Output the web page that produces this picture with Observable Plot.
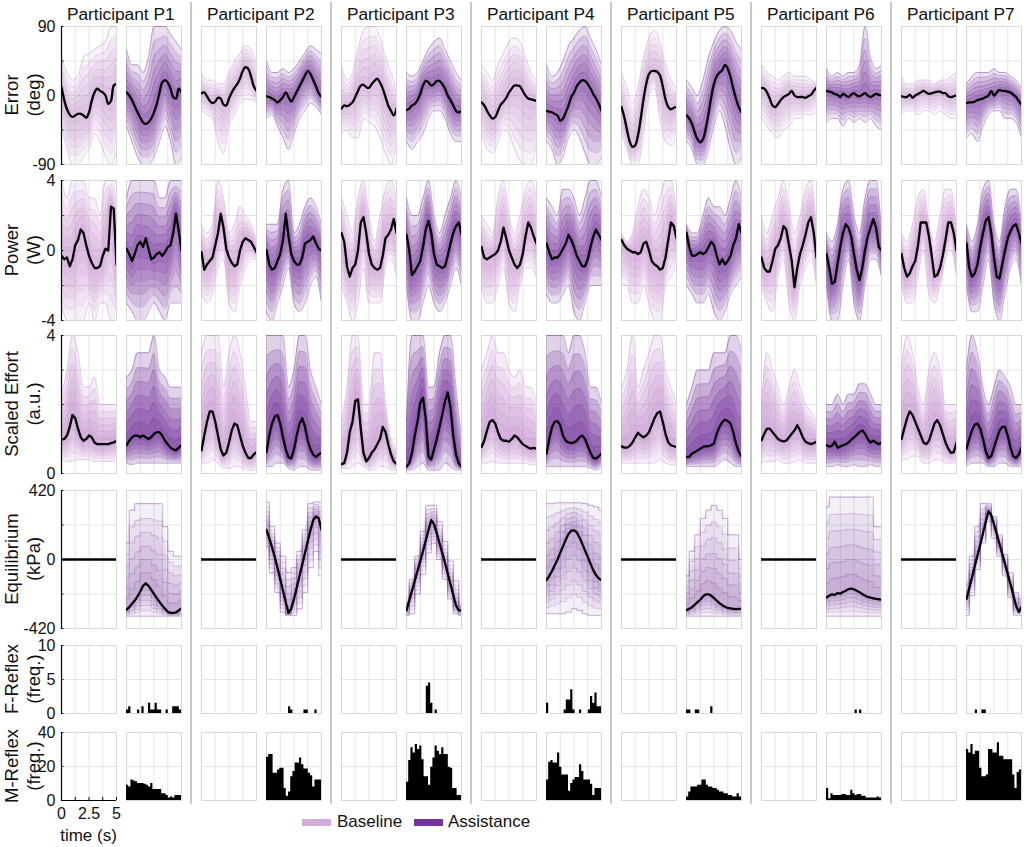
<!DOCTYPE html>
<html><head><meta charset="utf-8">
<script src="https://cdn.jsdelivr.net/npm/d3@7"></script>
<script src="https://cdn.jsdelivr.net/npm/@observablehq/plot@0.6"></script>
<style>
body{margin:0;background:#fff;}
#fig{position:relative;width:1024px;height:847px;overflow:hidden;font-family:"Liberation Sans",Arial,Helvetica,sans-serif;color:#111;}
.panel{position:absolute;}
.panel svg{overflow:visible;display:block;}
.title{position:absolute;font-size:17.3px;line-height:20px;transform:translateX(-50%);white-space:nowrap;}
.ylab{position:absolute;font-size:18.5px;line-height:22px;text-align:center;transform:translate(-50%,-50%) rotate(-90deg);white-space:nowrap;}
.sep{position:absolute;width:1.5px;background:#c9c9c9;}
.xlab{position:absolute;font-size:17px;transform:translate(-50%,-50%);white-space:nowrap;}
.leg{position:absolute;font-size:17px;line-height:20px;white-space:nowrap;}
.sw{position:absolute;height:7px;}
</style></head><body><div id="fig"></div><script>
// ---------------- DATA ----------------
const participants = ["P1","P2","P3","P4","P5","P6","P7"];
const meanTimes = [0,0.25,0.5,0.75,1,1.25,1.5,1.75,2,2.25,2.5,2.75,3,3.25,3.5,3.75,4,4.25,4.5,4.75,5];
const envTimes = [0,0.5,1,1.5,2,2.5,3,3.5,4,4.5,5];
const reflexBinStarts = [0,0.2,0.4,0.6,0.8,1,1.2,1.4,1.6,1.8,2,2.2,2.4,2.6,2.8,3,3.2,3.4,3.6,3.8,4,4.2,4.4,4.6,4.8];
const reflexBinEnd = 5;
const timeTicks = [0,1.25,2.5,3.75,5];
const timeTickLabels = [0,2.5,5];

const errorTicks = [-90,-45,0,45,90], errorTickLabels = [-90,0,90];
const powerTicks = [-4,-2,0,2,4], powerTickLabels = [-4,0,4];
const effortTicks = [0,1,2,3,4], effortTickLabels = [0,4];
const equilibriumTicks = [-420,-210,0,210,420], equilibriumTickLabels = [-420,0,420];
const fReflexTicks = [0,5,10], fReflexTickLabels = [0,5,10];
const mReflexTicks = [0,20,40], mReflexTickLabels = [0,20,40];

// Error (deg)
const errorBaselineMean = [
 [11,-6,-18,-25,-28,-26,-24,-24,-26,-29,-22,-7,4,9,6,4,0,-11,-7,13,15],
 [3,4,-1,-7,-10,-8,-3,-4,-12,-13,-4,4,10,15,22,32,37,35,25,12,6],
 [-17,-13,-14,-12,-9,-2,6,13,14,11,10,15,19,22,17,9,-2,-13,-20,-26,-17],
 [-9,-13,-20,-26,-30,-28,-20,-12,-8,-3,4,9,13,13,12,6,0,-4,-5,-6,-7],
 [-15,-28,-45,-60,-67,-65,-52,-30,-5,15,28,32,32,31,26,12,-5,-15,-18,-16,-15],
 [10,9,4,-4,-13,-15,-11,-6,-2,0,2,6,0,-2,-2,-2,-3,-1,1,6,10],
 [-1,-2,-2,1,-3,0,2,4,6,4,2,3,4,5,5,3,3,-1,-2,-1,0]];
const errorBaselineLow = [
 [-40,-70,-90,-90,-80,-70,-50,-60,-80,-90,-70],
 [-20,-25,-30,-60,-75,-40,-25,-10,-5,-5,-10],
 [-50,-45,-55,-55,-30,-35,-40,-55,-75,-90,-60],
 [-50,-70,-75,-60,-45,-50,-70,-85,-90,-90,-60],
 [-50,-70,-90,-90,-50,0,10,-30,-60,-65,-55],
 [-30,-40,-50,-55,-45,-40,-30,-30,-25,-25,-20],
 [-25,-20,-20,-25,-20,-20,-25,-20,-25,-30,-30]];
const errorBaselineHigh = [
 [50,30,20,25,50,55,60,65,70,90,90],
 [30,20,20,15,15,30,45,55,65,60,40],
 [40,20,30,60,85,90,90,75,50,30,10],
 [40,30,20,40,55,70,75,70,50,30,20],
 [30,10,-10,10,50,75,85,70,40,20,10],
 [40,30,25,20,25,30,25,25,25,20,15],
 [25,15,15,20,20,20,15,20,20,25,30]];
const errorAssistMean = [
 [4,0,-6,-14,-22,-29,-35,-37,-35,-30,-22,-11,4,17,20,17,9,-2,-4,9,4],
 [-1,-2,-4,-6,-9,-6,-2,4,-2,-8,-2,5,12,19,26,32,28,20,12,3,-2],
 [-19,-17,-13,-11,-6,2,13,19,17,13,15,19,19,15,9,0,-6,-13,-20,-22,-20],
 [-20,-21,-22,-24,-26,-33,-30,-22,-13,-2,4,12,17,20,19,15,9,2,-4,-11,-20],
 [-26,-30,-37,-48,-57,-61,-57,-43,-24,-2,15,25,30,33,40,35,24,9,-4,-15,-22],
 [6,5,4,2,1,-2,2,0,-2,1,3,0,-1,1,3,0,-2,0,2,1,0],
 [-10,-9,-9,-8,-6,-5,-4,-2,0,6,0,4,7,6,6,5,4,1,-2,-7,-12]];
const errorAssistLow = [
 [-40,-60,-80,-90,-90,-80,-60,-40,-60,-90,-80],
 [-30,-25,-40,-55,-70,-50,-30,-20,-10,-15,-25],
 [-60,-70,-60,-50,-30,-20,-20,-30,-50,-60,-60],
 [-60,-70,-90,-80,-55,-45,-55,-75,-90,-90,-80],
 [-60,-70,-90,-90,-70,-40,-20,-40,-70,-90,-80],
 [-35,-30,-30,-40,-30,-35,-30,-35,-30,-40,-45],
 [-55,-50,-60,-40,-25,-20,-20,-30,-30,-35,-55]];
const errorAssistHigh = [
 [60,40,40,30,50,90,90,90,80,70,60],
 [45,30,30,35,30,35,45,55,65,60,55],
 [30,25,30,45,60,70,75,60,45,30,20],
 [40,25,30,45,65,75,85,90,75,60,40],
 [20,10,0,20,50,70,85,90,85,70,60],
 [35,25,30,25,30,30,40,90,50,35,40],
 [15,25,30,30,30,35,30,30,25,20,10]];

// Power (W)
const powerBaselineMean = [
 [-0.3,-0.5,-0.4,-0.9,-0.5,0.3,0.6,1.2,1.0,0.3,-0.3,-0.7,-1.0,-1.0,-0.9,-0.3,0.1,0.0,2.5,2.4,-0.8],
 [-0.1,-1.1,-0.8,-0.6,-0.4,0.3,1.0,2.1,1.3,0.1,-0.4,-0.7,-0.9,-0.8,0.0,0.5,0.7,0.6,0.5,0.2,-0.1],
 [1.0,0.5,-0.9,-1.5,-1.0,-0.8,0.0,1.6,1.9,1.0,-0.2,-0.8,-1.0,-1.1,-1.0,-0.3,0.7,0.9,1.2,1.8,1.0],
 [0.2,-0.4,-0.5,-0.4,-0.3,-0.2,0.0,0.5,1.3,0.7,0.0,-0.4,-0.8,-1.0,-0.8,-0.2,0.8,1.6,1.3,0.8,0.4],
 [0.6,0.3,0.1,0.0,-0.1,-0.1,-0.2,-0.1,0.4,0.5,0.0,-0.6,-0.8,-0.9,-1.1,-1.0,-0.4,0.6,1.6,1.4,0.7],
 [-0.4,-1.0,-1.2,-1.2,-0.6,0.1,0.3,0.7,1.4,1.2,0.3,-0.6,-2.1,-1.0,-0.2,0.3,0.9,1.6,1.9,1.0,-0.4],
 [-0.2,-1.0,-1.5,-1.3,-0.9,-0.6,0.3,1.6,1.6,1.6,0.8,-0.3,-1.5,-1.4,-1.0,-0.3,0.6,1.6,1.6,1.0,0.0]];
const powerBaselineLow = [
 [-3,-4,-4,-4,-4,-3,-4,-3,-3,-4,-4],
 [-2.5,-3,-2.5,-1,-0.5,-3,-3.5,-2,-1,-0.5,-0.5],
 [-2,-3,-4,-3,-1,-3,-3,-3,-1,-0.5,-1.5],
 [-2,-3,-3,-2,-1,-3,-3.5,-2,-1,-1,-1.5],
 [-2,-2,-3,-3,-2,-3,-4,-4,-2,-1.5,-1],
 [-2,-3,-3.5,-1.5,-0.5,-3,-4,-2,-1,-0.5,-2],
 [-2,-3,-3,-1.5,0,-2.5,-3,-2,-0.5,0,-1.5]];
const powerBaselineHigh = [
 [4,3,4,4,4,3,3,2,4,4,4],
 [1.5,1,1.5,4,3,1,1.5,2.5,2,1.5,0.5],
 [3,2,1,3,4,2,0.5,2,3.5,4,3],
 [2,1.5,1,3,4,2,1,2,3.5,4,3],
 [1,0.5,1,2.5,3.5,3,2,3,4,4,2],
 [2,1,2,3,4,2.5,1,2,3.5,4,1],
 [1,0.5,1.5,3,3.5,1.5,0.5,2,3.5,3.5,1]];
const powerAssistMean = [
 [0.1,-0.2,-0.6,-0.2,0.3,0.5,0.2,0.7,0.1,-0.5,-0.4,-0.2,-0.1,-0.3,-0.1,0.2,0.3,1.0,2.1,1.1,0.0],
 [0.0,-0.8,-1.1,-1.0,-0.6,-0.2,0.6,2.1,0.8,-0.2,-0.6,-0.8,-0.8,-0.4,0.4,0.5,0.6,0.8,0.4,0.1,0.0],
 [0.9,0.0,-1.4,-1.2,-0.9,-0.6,0.2,1.2,1.7,1.0,-0.2,-0.8,-0.9,-1.0,-0.9,-0.3,0.4,1.0,1.4,1.6,0.9],
 [0.4,-0.1,-0.5,-0.4,-0.4,-0.2,0.1,0.4,0.9,0.6,0.2,-0.3,-0.6,-0.9,-0.9,-0.5,0.2,0.8,1.2,0.9,0.6],
 [1.0,0.2,-0.3,-0.3,-0.2,-0.1,-0.2,-0.1,0.2,0.5,0.3,-0.3,-0.8,-0.5,-0.8,-0.6,-0.3,0.3,0.7,1.5,1.0],
 [-0.2,-1.0,-1.9,-1.8,-0.8,0.2,1.0,1.5,1.3,0.8,-0.2,-1.1,-1.7,-1.0,0.0,0.8,1.3,1.8,1.3,0.2,0.0],
 [0.4,-1.0,-1.5,-1.3,-0.8,0.2,1.0,1.7,1.9,1.0,-0.4,-1.5,-1.6,-0.8,0.0,0.7,1.1,1.4,1.5,1.0,0.4]];
const powerAssistLow = [
 [-3,-3.5,-4,-4,-3.5,-3,-3.5,-4,-3,-3,-3],
 [-3.5,-4,-3,-2,-1,-3,-3.5,-3,-2,-1.5,-3],
 [-2,-4,-4,-3,-2,-3,-3.5,-3,-2,-1,-2],
 [-2.5,-3,-3,-2.5,-2,-3.5,-4,-3,-2,-2,-2],
 [-2,-2.5,-3,-3,-2.5,-3.5,-4,-3.5,-2.5,-2,-1.5],
 [-2,-4,-4,-2,-0.5,-3,-4,-2,-0.5,-0.5,-1.5],
 [-2,-3.5,-3.5,-2,-0.5,-3,-4,-2.5,-1,-0.5,-2]];
const powerAssistHigh = [
 [3,4,4,4,4,4,3,3,4,4,4],
 [1.5,1.5,1.5,3.5,4,1,1.5,2.5,3,2.5,1.5],
 [3,2,2,3,4,2,1,2,3,4,3],
 [3,2.5,2,3.5,3.5,3,2,3,4,4,3],
 [1.5,1,1,2,3,2.5,2.5,2,3,4,3],
 [1,0.5,1.5,3.5,4,2,1,3,4,4,1],
 [1.5,0.5,1.5,3.5,4,1.5,0.5,2.5,3.5,3.5,1.5]];

// Scaled Effort (a.u.)
const effortBaselineMean = [
 [0.98,1.0,1.1,1.35,1.7,1.6,1.3,1.05,0.95,1.0,1.1,1.05,0.9,0.85,0.85,0.85,0.85,0.85,0.88,0.9,0.95],
 [0.67,1.1,1.5,1.8,1.8,1.5,1.1,0.7,0.52,0.6,0.9,1.25,1.45,1.4,1.1,0.8,0.6,0.45,0.45,0.55,0.62],
 [0.27,0.3,0.6,1.2,1.5,2.1,2.15,1.3,0.6,0.35,0.45,0.6,0.7,0.85,1.0,1.35,1.2,0.85,0.55,0.35,0.28],
 [0.77,0.95,1.25,1.5,1.55,1.45,1.2,1.0,0.95,0.95,0.92,1.0,1.1,1.05,0.95,0.85,0.8,0.75,0.72,0.74,0.72],
 [0.79,0.75,0.75,0.8,0.9,1.05,1.18,1.1,1.05,1.1,1.2,1.4,1.6,1.75,1.8,1.5,1.15,0.9,0.82,0.79,0.77],
 [0.96,1.15,1.3,1.3,1.2,1.1,1.0,0.95,0.93,0.95,1.05,1.15,1.25,1.4,1.25,1.05,0.92,0.88,0.85,0.88,0.92],
 [1.0,1.3,1.6,1.8,1.7,1.5,1.3,1.1,0.9,0.85,0.95,1.2,1.45,1.55,1.4,1.15,0.9,0.72,0.6,0.62,0.9]];
const effortBaselineLow = [
 [0.4,0.35,0.35,0.4,0.4,0.4,0.35,0.35,0.35,0.35,0.4],
 [0.3,0.3,0.4,0.3,0.15,0.15,0.2,0.2,0.1,0.1,0.1],
 [0.15,0.15,0.2,0.3,0.2,0.1,0.1,0.2,0.2,0.1,0.1],
 [0.3,0.3,0.35,0.3,0.3,0.3,0.3,0.3,0.3,0.25,0.25],
 [0.3,0.3,0.3,0.3,0.3,0.3,0.3,0.4,0.3,0.25,0.25],
 [0.3,0.35,0.35,0.4,0.3,0.3,0.35,0.4,0.3,0.3,0.3],
 [0.4,0.4,0.5,0.5,0.3,0.3,0.4,0.4,0.3,0.3,0.3]];
const effortBaselineHigh = [
 [2.3,3.0,4.0,3.5,2.5,2.5,2.8,2.0,2.0,2.0,2.0],
 [3.5,4.0,4.0,4.0,2.5,3.5,4.0,3.5,2.5,1.5,1.5],
 [1.5,2.5,4.0,4.0,2.0,2.0,3.5,3.5,2.0,1.0,0.8],
 [3.0,3.5,4.0,3.5,3.5,3.0,2.8,3.0,2.5,2.5,2.0],
 [2.5,3.0,4.0,2.5,3.0,3.5,4.0,4.0,3.0,2.5,2.0],
 [2.0,3.5,3.0,2.5,2.0,2.5,3.0,2.5,2.0,1.8,1.5],
 [3.0,4.0,3.5,2.5,2.0,3.0,3.5,3.0,2.0,2.0,2.0]];
const effortAssistMean = [
 [0.82,0.95,1.05,1.1,1.1,1.05,1.1,1.05,1.0,1.05,1.15,1.2,1.2,1.1,0.95,0.85,0.75,0.7,0.67,0.75,0.82],
 [0.63,1.1,1.45,1.65,1.7,1.45,1.05,0.7,0.48,0.43,0.7,1.1,1.45,1.6,1.35,0.95,0.7,0.55,0.48,0.55,0.6],
 [0.2,0.3,0.6,1.1,1.5,2.05,2.2,1.6,0.5,0.4,0.7,1.0,1.35,1.7,2.1,2.35,1.9,1.1,0.55,0.3,0.2],
 [0.58,1.0,1.35,1.5,1.52,1.4,1.1,0.95,0.9,0.88,0.9,0.95,1.05,1.1,1.0,0.8,0.6,0.45,0.43,0.5,0.58],
 [0.48,0.48,0.58,0.62,0.67,0.72,0.77,0.79,0.79,0.82,0.87,1.16,1.35,1.49,1.56,1.52,1.45,1.2,0.87,0.63,0.5],
 [0.82,0.78,0.8,0.92,0.75,0.78,0.82,0.85,0.9,0.98,1.05,1.12,1.2,1.25,1.15,1.0,0.9,0.95,0.9,0.85,0.9],
 [0.72,1.0,1.25,1.42,1.45,1.3,1.0,0.65,0.45,0.5,0.75,1.0,1.25,1.35,1.35,1.1,0.75,0.5,0.45,0.55,0.75]];
const effortAssistLow = [
 [0.3,0.25,0.3,0.3,0.3,0.3,0.3,0.3,0.3,0.3,0.3],
 [0.2,0.2,0.3,0.3,0.15,0.1,0.2,0.2,0.1,0.1,0.1],
 [0.1,0.1,0.2,0.3,0.1,0.1,0.1,0.3,0.2,0.1,0.1],
 [0.2,0.2,0.2,0.2,0.2,0.2,0.2,0.2,0.15,0.1,0.2],
 [0.2,0.2,0.2,0.2,0.2,0.2,0.3,0.4,0.3,0.2,0.2],
 [0.2,0.2,0.25,0.2,0.2,0.25,0.2,0.2,0.25,0.2,0.2],
 [0.2,0.3,0.3,0.3,0.2,0.2,0.3,0.3,0.2,0.2,0.2]];
const effortAssistHigh = [
 [2.8,3.0,3.5,3.5,3.5,4.0,3.0,2.8,2.5,2.5,2.5],
 [4.0,4.0,4.0,4.0,2.5,3.0,4.0,4.0,3.0,2.5,2.0],
 [1.5,4.0,4.0,4.0,2.5,2.5,3.5,4.0,4.0,2.5,1.0],
 [4.0,4.0,4.0,4.0,3.5,4.0,4.0,3.5,2.5,2.5,2.0],
 [2.0,2.5,3.0,3.0,3.0,3.5,3.5,3.5,4.0,4.0,3.5],
 [2.0,2.0,2.3,2.0,2.3,2.3,2.6,2.6,2.3,2.0,2.0],
 [3.0,4.0,3.5,2.5,2.0,2.5,3.0,2.8,2.5,2.0,2.0]];

// Equilibrium (kPa)
const equilibriumBaselineLevel = [0,0,0,0,0,0,0];
const equilibriumAssistMean = [
 [-305,-290,-270,-250,-225,-195,-160,-145,-160,-185,-210,-235,-258,-280,-300,-318,-325,-325,-322,-310,-298],
 [180,130,75,15,-50,-120,-190,-260,-325,-300,-240,-170,-100,-30,40,110,180,240,262,250,180],
 [-310,-250,-190,-130,-70,-10,50,115,180,240,215,160,100,40,-20,-85,-150,-215,-280,-310,-310],
 [-125,-100,-70,-35,0,40,80,120,155,175,178,165,135,95,55,15,-25,-65,-95,-115,-125],
 [-308,-300,-290,-275,-260,-245,-225,-212,-212,-220,-235,-250,-265,-278,-288,-295,-298,-300,-302,-300,-300],
 [-232,-220,-212,-215,-205,-208,-198,-190,-180,-177,-182,-190,-200,-210,-220,-228,-232,-236,-240,-242,-245],
 [-240,-175,-110,-40,25,90,160,230,295,270,215,155,95,35,-25,-90,-150,-215,-280,-320,-290]];
const equilibriumAssistLow = [
 [-345,-345,-345,-345,-345,-345,-345,-345,-345,-345,-345],
 [80,-80,-200,-320,-340,-340,-300,-200,-50,50,-100],
 [-340,-330,-210,-90,40,100,0,-120,-240,-330,-340],
 [-330,-330,-330,-330,-320,-300,-310,-330,-340,-340,-340],
 [-345,-345,-345,-345,-345,-345,-345,-345,-345,-345,-345],
 [-345,-345,-345,-345,-345,-345,-345,-345,-345,-345,-345],
 [-340,-220,-60,100,230,130,20,-100,-230,-340,-340]];
const equilibriumAssistHigh = [
 [100,300,340,340,340,340,340,200,50,20,20],
 [350,200,100,20,-80,-50,50,180,340,350,350],
 [-260,-120,20,170,330,330,230,110,-10,-130,-280],
 [340,340,345,345,345,345,345,340,330,320,300],
 [-100,50,150,250,300,330,300,250,150,150,0],
 [320,380,380,380,380,380,380,380,380,200,200],
 [-150,20,200,340,340,260,150,30,-80,-200,-240]];

// Reflex histograms (frequency per 0.2 s bin), assistance only
const fReflexAssist = [
 [0.5,1,0,0,0,0.5,0,1,0,0,1.5,0.5,0.5,1.5,0.5,0.5,0,0,0.5,0,0,1,1,1,0.5],
 [0,0,0,0,0,0,0,0,0,0,1,0.5,0,0,0,0,0,0.5,0.5,0,0,0,0.5,0,0],
 [0,0,0,0,0,0,0,0,0,4,4.5,1.5,0,0.5,0,0,0,0,0,0,0,0,0,0,0],
 [1.5,0,0,0,0,0,0,0,0.5,2,2,3.5,0.5,0,0,0.5,0,0,0,0.5,2.5,1.5,3,1,1],
 [0.5,0.5,0,0,0.5,0.5,0,0,0,0,0,1,0,0,0,0,0,0,0,0,0,0,0,0,0],
 [0,0,0,0,0,0,0,0,0,0,0,0,0,0.5,0,0.5,0,0,0,0,0,0,0,0,0],
 [0,0,0,0,0.5,0,0,0.5,0.5,0,0,0,0,0,0,0,0,0,0,0,0,0,0,0,0]];
const mReflexAssist = [
 [9,8,12,11.5,11,10,10,10,9.5,9,8,10,6.5,6.5,6.5,6.5,4,4,3,1.5,2,1.5,3,3,3],
 [25.5,27,27,16,16,18,19,19,7,2.5,5,14,17,22,22,25,21,18.5,18.5,16,14.5,8,12,12,12],
 [10.7,23.5,31,28,33,30,32,24,14,14,9,19.5,25,32,29,27,31,27,27,19.5,19,7,7,3,3],
 [12,22.5,23.5,22,22,28,19.5,15,15,15,5.5,10,12,13.5,13.5,21,17,12,12,12,9.5,3,7,7,7],
 [2,5,8,8,8,9,9,12,12,9,8,8,7,7,6,5,5,4,4,3,3,2,2,4,2],
 [7,1,4,3,3,3,3,3.5,3.5,3,3,6,4,3,3.5,3.5,2.5,2.5,1.5,1.5,1.5,1.5,1.5,2,1.5],
 [30,28,33,27,29,29,19,14,14,15,30,30,28,28,34,26,26,24,24,24,24,15,7,16.5,18]];

// ---------------- LAYOUT / STYLE ----------------
const baseColor = "#bf86cc", assistColor = "#74309b";
const legendBaseColor = "#d4aadc", legendAssistColor = "#7634a0";
const font = '"Liberation Sans", Arial, Helvetica, sans-serif';
const colLeft = 61, colStride = 140, panelW = 55, assistOffset = 64.5, axisMargin = 61;
const bandLevels = [1, 0.82, 0.65, 0.48, 0.32, 0.16];

const rows = [
 {title:["Error","(deg)"], top:26, h:138, domain:[-90,90], ticks:errorTicks, labels:errorTickLabels, grid:[-45,0,45], kind:"line", curve:"catmull-rom", op:{B:0.11, A:0.15},
  B:{mean:errorBaselineMean, lo:errorBaselineLow, hi:errorBaselineHigh}, A:{mean:errorAssistMean, lo:errorAssistLow, hi:errorAssistHigh}},
 {title:["Power","(W)"], top:180, h:140, domain:[-4,4], ticks:powerTicks, labels:powerTickLabels, grid:[-2,0,2], kind:"line", curve:"linear", op:{B:0.13, A:0.18},
  B:{mean:powerBaselineMean, lo:powerBaselineLow, hi:powerBaselineHigh}, A:{mean:powerAssistMean, lo:powerAssistLow, hi:powerAssistHigh}},
 {title:["Scaled Effort","(a.u.)"], top:335, h:138, domain:[0,4], ticks:effortTicks, labels:effortTickLabels, grid:[1,2,3], kind:"line", curve:"linear", op:{B:0.16, A:0.22},
  B:{mean:effortBaselineMean, lo:effortBaselineLow, hi:effortBaselineHigh}, A:{mean:effortAssistMean, lo:effortAssistLow, hi:effortAssistHigh}},
 {title:["Equilibrium","(kPa)"], top:490, h:138, domain:[-420,420], ticks:equilibriumTicks, labels:equilibriumTickLabels, grid:[-210,0,210], kind:"equil", curve:"linear", op:{A:0.08},
  B:{level:equilibriumBaselineLevel}, A:{mean:equilibriumAssistMean, lo:equilibriumAssistLow, hi:equilibriumAssistHigh}},
 {title:["F-Reflex","(freq.)"], top:645, h:68, domain:[0,10], ticks:fReflexTicks, labels:fReflexTickLabels, grid:[5], kind:"hist", A:{bins:fReflexAssist}},
 {title:["M-Reflex","(freq.)"], top:732, h:68, domain:[0,40], ticks:mReflexTicks, labels:mReflexTickLabels, grid:[20], kind:"hist", A:{bins:mReflexAssist}, xAxis:true}
];

const fig = document.getElementById("fig");
function addDiv(cls, css, html){ const d=document.createElement("div"); d.className=cls; Object.assign(d.style, css); if(html!==undefined) d.innerHTML=html; fig.appendChild(d); return d; }

function bandMarks(series, p, color, op, curve, stepEdges){
  const mean = series.mean[p], lo = series.lo[p], hi = series.hi[p];
  const bd = envTimes.map((t,i)=>({t, m: mean[meanTimes.indexOf(t)], lo: lo[i], hi: hi[i]}));
  const marks = [];
  const ec = stepEdges ? "step" : "monotone-x";
  bandLevels.forEach((k,j)=>{
    const y1 = d=>d.m+k*(d.lo-d.m), y2 = d=>d.m+k*(d.hi-d.m);
    marks.push(Plot.areaY(bd, {x:"t", y1, y2, fill:color, fillOpacity:op, curve:"monotone-x", clip:true}));
    marks.push(Plot.line(bd, {x:"t", y:y1, stroke:color, strokeWidth:0.6, strokeOpacity:j===0?0.7:0.35, curve:ec, clip:true}));
    marks.push(Plot.line(bd, {x:"t", y:y2, stroke:color, strokeWidth:0.6, strokeOpacity:j===0?0.7:0.35, curve:ec, clip:true}));
  });
  const md = meanTimes.map((t,i)=>({t, v: mean[i]}));
  marks.push(Plot.line(md, {x:"t", y:"v", stroke:"black", strokeWidth:2.3, curve, clip:true}));
  return marks;
}

rows.forEach((row, r) => {
  participants.forEach((pname, p) => {
    ["B","A"].forEach(cond => {
      const isAxis = (p===0 && cond==="B");
      const left = colLeft + colStride*p + (cond==="A"?assistOffset:0);
      const marks = [
        Plot.ruleX([1.25,2.5,3.75], {stroke:"#e4e4e4", strokeWidth:1}),
        Plot.ruleY(row.grid, {stroke:"#e4e4e4", strokeWidth:1}),
        Plot.frame({stroke:"#d8d8d8", strokeWidth:1})
      ];
      const color = cond==="B" ? baseColor : assistColor;
      if (row.kind==="line") {
        marks.push(...bandMarks(row[cond], p, color, row.op[cond], row.curve, false));
      } else if (row.kind==="equil") {
        if (cond==="B") marks.push(Plot.ruleY([row.B.level[p]], {stroke:"black", strokeWidth:2.4}));
        else marks.push(...bandMarks(row.A, p, color, row.op.A, "linear", true));
      } else if (row.kind==="hist" && cond==="A") {
        const vals = row.A.bins[p];
        const pts = reflexBinStarts.map((s,i)=>({t:s, v: vals[i]}));
        pts.push({t:reflexBinEnd, v: vals[vals.length-1]});
        marks.push(Plot.areaY(pts, {x:"t", y:"v", curve:"step-after", fill:"black"}));
      }
      let marginBottom = 0;
      if (isAxis) {
        const span = row.domain[1]-row.domain[0];
        marks.push(Plot.ruleX([0], {stroke:"black", strokeWidth:1.2}));
        marks.push(Plot.ruleY(row.ticks, {x1:0, x2:0.22, stroke:"black"}));
        marks.push(Plot.axisY({ticks:row.labels, tickSize:0, tickPadding:6, tickFormat:d=>String(d), label:null, fontSize:16}));
        if (row.xAxis) {
          marginBottom = 30;
          marks.push(Plot.ruleY([row.domain[0]], {stroke:"black", strokeWidth:1.2}));
          marks.push(Plot.ruleX(timeTicks, {y1:row.domain[0], y2:row.domain[0]+span*0.045, stroke:"black"}));
          marks.push(Plot.axisX({ticks:timeTickLabels, tickSize:0, tickPadding:7, tickFormat:d=>String(d), label:null, fontSize:16}));
        }
      }
      const plot = Plot.plot({
        width: panelW + (isAxis?axisMargin:0),
        height: row.h + marginBottom,
        marginLeft: isAxis?axisMargin:0, marginRight:0, marginTop:0, marginBottom,
        x:{domain:[0,5], axis:null},
        y:{domain:row.domain, axis:null},
        style:{overflow:"visible", fontFamily:font, fontSize:"16px", color:"#111", background:"transparent"},
        marks
      });
      const wrap = addDiv("panel", {left:(isAxis?left-axisMargin:left)+"px", top:row.top+"px"});
      wrap.appendChild(plot);
    });
  });
  addDiv("ylab", {left:"23px", top:(row.top+row.h/2)+"px"}, row.title.join("<br>"));
});

participants.forEach((pname,p)=>{
  addDiv("title", {left:(colLeft+colStride*p+(assistOffset+panelW)/2)+"px", top:"4px"}, "Participant "+pname);
  if (p>0) addDiv("sep", {left:(colLeft+colStride*p-11)+"px", top:"2px", height:"802px"});
});
addDiv("xlab", {left:(colLeft+panelW/2)+"px", top:"836px"}, "time (s)");
addDiv("sw", {left:"302px", top:"819px", width:"29px", background:legendBaseColor});
addDiv("leg", {left:"337px", top:"812px"}, "Baseline");
addDiv("sw", {left:"414px", top:"819px", width:"29px", background:legendAssistColor});
addDiv("leg", {left:"448px", top:"812px"}, "Assistance");
</script></body></html>
